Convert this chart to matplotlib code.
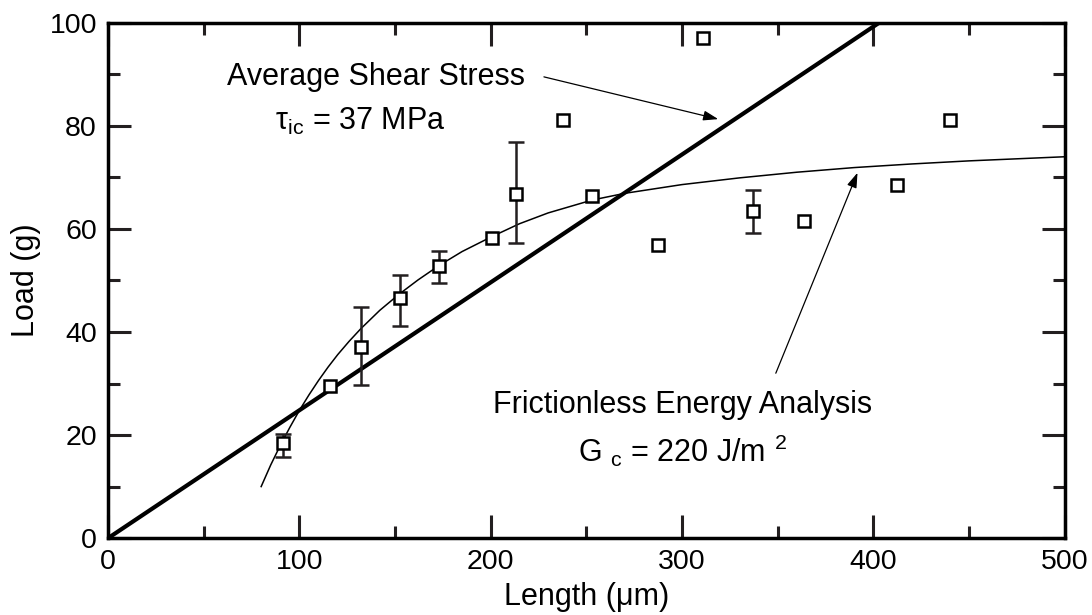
import numpy as np
import matplotlib
matplotlib.use('Agg')
import matplotlib.pyplot as plt
from matplotlib.ticker import MultipleLocator

plt.rcParams['font.family'] = ['Liberation Sans', 'DejaVu Sans']
plt.rcParams['mathtext.fontset'] = 'custom'
plt.rcParams['mathtext.rm'] = 'Liberation Sans'
plt.rcParams['mathtext.it'] = 'Liberation Sans'

# measured pushout data
length = [91.6, 116, 132.2, 152.6, 173.1, 200.8, 213, 237.6, 252.7, 287.5,
          311, 337.1, 363.8, 412.6, 440]
load = [18.4, 29.5, 37.0, 46.5, 52.8, 58.2, 66.7, 81.2, 66.3, 56.9,
        97.0, 63.4, 61.6, 68.5, 81.2]
err_lo = [2.7, 0, 7.3, 5.3, 3.3, 0, 9.4, 0, 0, 0, 0, 4.2, 0, 0, 0]
err_hi = [1.9, 0, 7.8, 4.6, 2.9, 0, 10.1, 0, 0, 0, 0, 4.2, 0, 0, 0]

# average shear stress line (tau_ic = 37 MPa)
shear_x = [0, 403]
shear_y = [0, 100]

# frictionless energy analysis curve (G_c = 220 J/m^2)
energy_x = [80, 85, 90, 95, 100, 105, 110, 115, 120, 126, 132, 142, 152, 162,
            173, 185, 200, 215, 230, 253, 270, 300, 330, 360, 390, 420, 450,
            475, 500]
energy_y = [10, 14.2, 18.0, 21.5, 24.8, 27.8, 30.6, 33.2, 35.6, 38.2, 40.6,
            44.2, 47.3, 50.1, 52.9, 55.6, 58.4, 61.0, 63.1, 65.6, 66.9, 68.6,
            69.9, 71.0, 71.9, 72.6, 73.2, 73.6, 74.0]

fig = plt.figure(figsize=(10.92, 6.15), dpi=100)
ax = fig.add_axes([0.099, 0.125, 0.876, 0.838])

ax.plot(shear_x, shear_y, color='black', lw=3, zorder=2)
ax.plot(energy_x, energy_y, color='black', lw=1.1, zorder=2)

x = np.array(length)
y = np.array(load)
lo = np.array(err_lo)
hi = np.array(err_hi)
m = (lo + hi) > 0
ax.errorbar(x[m], y[m], yerr=[lo[m], hi[m]], fmt='none', ecolor='#231f20',
            elinewidth=1.8, capsize=5.8, capthick=1.8, zorder=3)
ax.plot(x, y, ls='none', marker='s', markersize=9, markeredgewidth=1.8,
        markerfacecolor='white', markeredgecolor='black', zorder=4)

ax.set_xlim(0, 500)
ax.set_ylim(0, 100)
ax.xaxis.set_major_locator(MultipleLocator(100))
ax.xaxis.set_minor_locator(MultipleLocator(50))
ax.yaxis.set_major_locator(MultipleLocator(20))
ax.yaxis.set_minor_locator(MultipleLocator(10))
ax.tick_params(which='both', direction='in', top=True, right=True,
               width=2.2, color='#231f20', labelsize=20.5, pad=8)
ax.tick_params(which='major', length=16.5)
ax.tick_params(which='minor', length=8.5)
for s in ax.spines.values():
    s.set_linewidth(2.5)
    s.set_color('black')

ax.set_xlabel('Length (\u03bcm)', fontsize=22, labelpad=5)
ax.set_ylabel('Load (g)', fontsize=22, labelpad=6)

ax.text(140, 89.5, 'Average Shear Stress', fontsize=22, ha='center', va='center')
ax.text(132, 80.8, r'$\mathregular{\tau_{ic}}$ = 37 MPa', fontsize=22,
        ha='center', va='center')
ax.annotate('', xy=(318.9, 81.3), xytext=(227.8, 89.5),
            arrowprops=dict(arrowstyle='-|>,head_length=0.9,head_width=0.3',
                            color='black', lw=0.9, shrinkA=0, shrinkB=0))

ax.text(300.4, 25.8, 'Frictionless Energy Analysis', fontsize=22,
        ha='center', va='center')
ax.text(300, 16.9, r'G$\mathregular{\ _c}$ = 220 J/m$\mathregular{\ ^2}$',
        fontsize=22, ha='center', va='center')
ax.annotate('', xy=(391.7, 70.9), xytext=(349, 32.0),
            arrowprops=dict(arrowstyle='-|>,head_length=0.9,head_width=0.3',
                            color='black', lw=0.9, shrinkA=0, shrinkB=0))

fig.savefig('out.png', dpi=100)
